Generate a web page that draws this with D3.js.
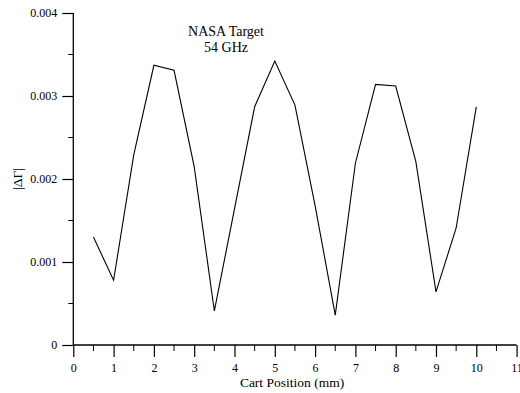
<!DOCTYPE html>
<html>
<head>
<meta charset="utf-8">
<script src="https://cdn.jsdelivr.net/npm/d3@7"></script>
<style>
  html, body { margin: 0; padding: 0; background: #fff; }
  svg { display: block; }
  text { font-family: "Liberation Serif", "Times New Roman", serif; fill: #000; }
</style>
</head>
<body>
<script>
// Data
const positions = [0.5, 1, 1.5, 2, 2.5, 3, 3.5, 4, 4.5, 5, 5.5, 6, 6.5, 7, 7.5, 8, 8.5, 9, 9.5, 10];
const deltaGamma = [0.00130, 0.00078, 0.00229, 0.00337, 0.00331, 0.00215, 0.00041, 0.00164, 0.00287, 0.00342,
                    0.00289, 0.00168, 0.00036, 0.00219, 0.00314, 0.00312, 0.00221, 0.00064, 0.00141, 0.00287];
const xTicks = [0, 1, 2, 3, 4, 5, 6, 7, 8, 9, 10, 11];
const xMinorTicks = [0.5, 1.5, 2.5, 3.5, 4.5, 5.5, 6.5, 7.5, 8.5, 9.5, 10.5];
const yTicks = [0, 0.001, 0.002, 0.003, 0.004];
const yMinorTicks = [0.0005, 0.0015, 0.0025, 0.0035];
const titleLines = ["NASA Target", "54 GHz"];
const xLabel = "Cart Position (mm)";
const yLabel = "|ΔΓ|";

const W = 520, H = 393;
const svg = d3.select("body").append("svg").attr("width", W).attr("height", H);

const x = d3.scaleLinear().domain([0, 11]).range([73.3, 516.6]);
const y = d3.scaleLinear().domain([0, 0.004]).range([345, 13]);

// X axis
const gx = svg.append("g").attr("transform", `translate(0,${y(0)})`);
gx.call(d3.axisBottom(x).tickValues(xTicks).tickFormat(d3.format("d")).tickSize(12).tickPadding(6));
gx.append("g").selectAll("line").data(xMinorTicks).join("line")
  .attr("x1", d => x(d)).attr("x2", d => x(d)).attr("y1", 0).attr("y2", 6)
  .attr("stroke", "#000");

// Y axis
const gy = svg.append("g").attr("transform", `translate(${x(0)},0)`);
gy.call(d3.axisLeft(y).tickValues(yTicks).tickFormat(d => d === 0 ? "0" : d3.format(".3f")(d)).tickSize(11).tickPadding(5));
gy.append("g").selectAll("line").data(yMinorTicks).join("line")
  .attr("x1", -5).attr("x2", 0).attr("y1", d => y(d)).attr("y2", d => y(d))
  .attr("stroke", "#000");

svg.selectAll(".domain").attr("stroke", "#000").attr("stroke-width", 1.3);
svg.selectAll(".tick line").attr("stroke", "#000").attr("stroke-width", 1.2);
svg.selectAll(".tick text").style("font-family", '"Liberation Serif", "Times New Roman", serif')
  .style("font-size", "12px").attr("fill", "#000");
gx.select(".domain").attr("d", `M${x(0)},0H${x(11)}`);
gy.select(".domain").attr("d", `M0,${y(0.004)}V${y(0)}`);

// Line
const line = d3.line().x((d, i) => x(positions[i])).y(d => y(d));
svg.append("path").datum(deltaGamma)
  .attr("d", line).attr("fill", "none").attr("stroke", "#000").attr("stroke-width", 1.1);

// Title
svg.append("g").selectAll("text").data(titleLines).join("text")
  .attr("x", 226).attr("y", (d, i) => 36 + i * 15.5)
  .attr("text-anchor", "middle").style("font-size", "14px").text(d => d);

// Axis labels
svg.append("text").attr("x", 292).attr("y", 387).attr("text-anchor", "middle")
  .style("font-size", "13.5px").text(xLabel);
svg.append("text").attr("transform", "translate(22,179) rotate(-90)").attr("text-anchor", "middle")
  .style("font-size", "13.5px").text(yLabel);
</script>
</body>
</html>
